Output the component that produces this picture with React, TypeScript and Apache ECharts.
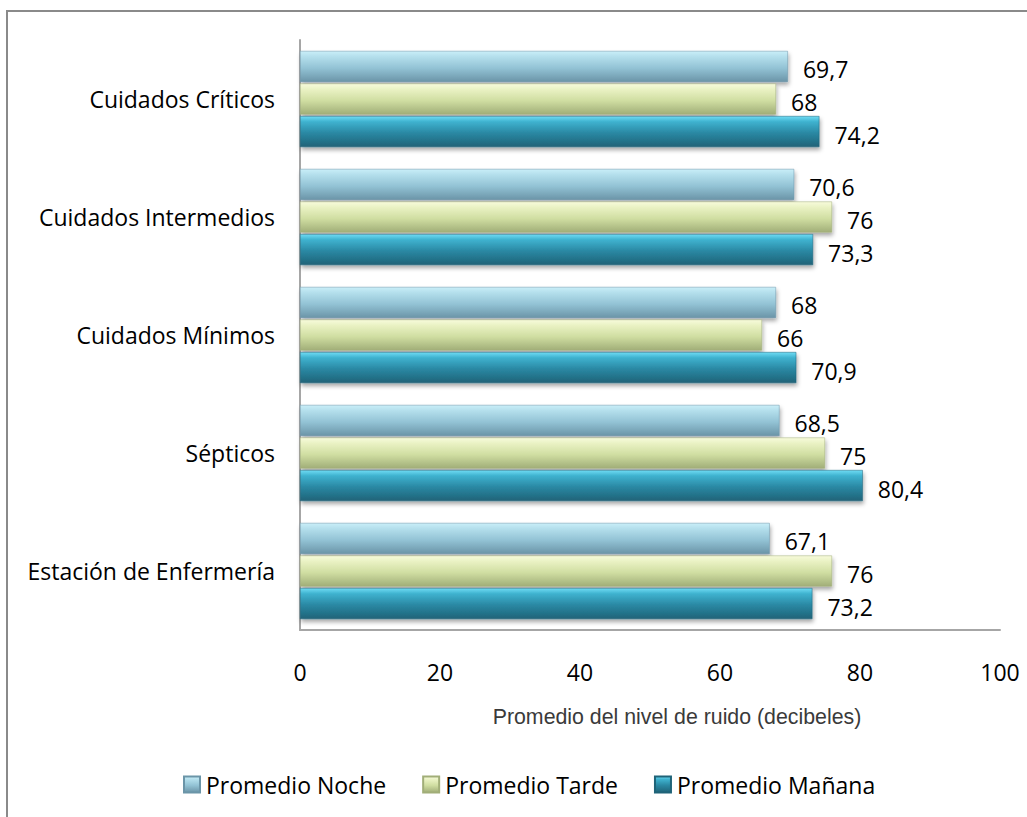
import React, { useEffect, useRef } from "react";
import * as echarts from "echarts";

const categories = [
  "Estación de Enfermería",
  "Sépticos",
  "Cuidados Mínimos",
  "Cuidados Intermedios",
  "Cuidados Críticos",
];
const seriesNames = ["Promedio Noche", "Promedio Tarde", "Promedio Mañana"];
const noche = [67.1, 68.5, 68, 70.6, 69.7];
const tarde = [76, 75, 66, 76, 68];
const manana = [73.2, 80.4, 70.9, 73.3, 74.2];
const xTicks = { min: 0, max: 100, interval: 20 };
const xAxisTitle = "Promedio del nivel de ruido (decibeles)";

const FONT = "'Open Sans', 'Noto Sans', sans-serif";
const FS = 23;

function grad(c0: string, c1: string, c2: string, c3: string) {
  return new echarts.graphic.LinearGradient(0, 0, 0, 1, [
    { offset: 0, color: c0 },
    { offset: 0.18, color: c1 },
    { offset: 0.55, color: c2 },
    { offset: 1, color: c3 },
  ]);
}

export default function App() {
  const ref = useRef<HTMLDivElement>(null);
  useEffect(() => {
    if (!ref.current) return;
    const chart = echarts.init(ref.current, undefined, { renderer: "svg" });
    const palettes = [
      ["#c9eef8", "#b4dfec", "#93c3d5", "#6b95a8"],
      ["#f7fbdc", "#eaf2c4", "#d0dea2", "#a1ae78"],
      ["#6fdcf4", "#3fb2cf", "#2a88a3", "#1f6378"],
    ];
    const legendColors = ["#8fc0d3", "#cddb9d", "#2a88a3"];
    const datas = [noche, tarde, manana];
    const series = seriesNames.map((name, i) => ({
      name,
      type: "bar",
      data: datas[i],
      barWidth: 31,
      barGap: "5%",
      itemStyle: {
        color: grad(palettes[i][0], palettes[i][1], palettes[i][2], palettes[i][3]),
        borderColor: palettes[i][3],
        borderWidth: 0.5,
        shadowColor: "rgba(0,0,0,0.35)",
        shadowBlur: 4,
        shadowOffsetY: 3,
        shadowOffsetX: 1,
      },
      label: {
        show: true,
        position: "right",
        distance: 15,
        offset: [0, 3],
        color: "#000",
        fontSize: FS,
        fontFamily: FONT,
        formatter: (p: any) => String(p.value).replace(".", ","),
      },
    }));
    chart.setOption({
      animation: false,
      backgroundColor: "#fff",
      color: legendColors,
      grid: { left: 300, right: 27, top: 40, bottom: 187, containLabel: false },
      xAxis: {
        type: "value",
        min: xTicks.min,
        max: xTicks.max,
        interval: xTicks.interval,
        axisLine: { show: true, lineStyle: { color: "#a6a6a6", width: 2 } },
        axisTick: { show: false },
        splitLine: { show: false },
        axisLabel: {
          color: "#000",
          fontSize: FS,
          fontFamily: FONT,
          margin: 30,
        },
      },
      yAxis: {
        type: "category",
        data: categories,
        axisLine: { show: true, lineStyle: { color: "#a6a6a6", width: 2 } },
        axisTick: { show: false },
        axisLabel: {
          color: "#000",
          fontSize: FS,
          fontFamily: FONT,
          margin: 25,
        },
      },
      legend: {
        data: seriesNames,
        left: 178,
        top: 768,
        itemWidth: 16,
        itemHeight: 16,
        itemGap: 36,
        icon: "rect",
        textStyle: { color: "#000", fontSize: FS, fontFamily: FONT, padding: [0, 0, 0, 1] },
      },
      graphic: [
        {
          type: "rect",
          shape: { x: 7, y: 11, width: 1100, height: 900 },
          style: { fill: "none", stroke: "#8a8a8a", lineWidth: 2 },
          silent: true,
          z: 10,
        },
        {
          type: "text",
          x: 677,
          y: 716,
          scaleX: 0.97,
          style: {
            text: xAxisTitle,
            fill: "#3a3a3a",
            fontSize: 22,
            fontFamily: "'Liberation Sans', Arial, sans-serif",
            align: "center",
            verticalAlign: "middle",
          },
        },
      ],
      series,
    });
    return () => chart.dispose();
  }, []);
  return (
    <div
      ref={ref}
      style={{ position: "fixed", left: 0, top: 0, width: 1027, height: 817 }}
    />
  );
}
